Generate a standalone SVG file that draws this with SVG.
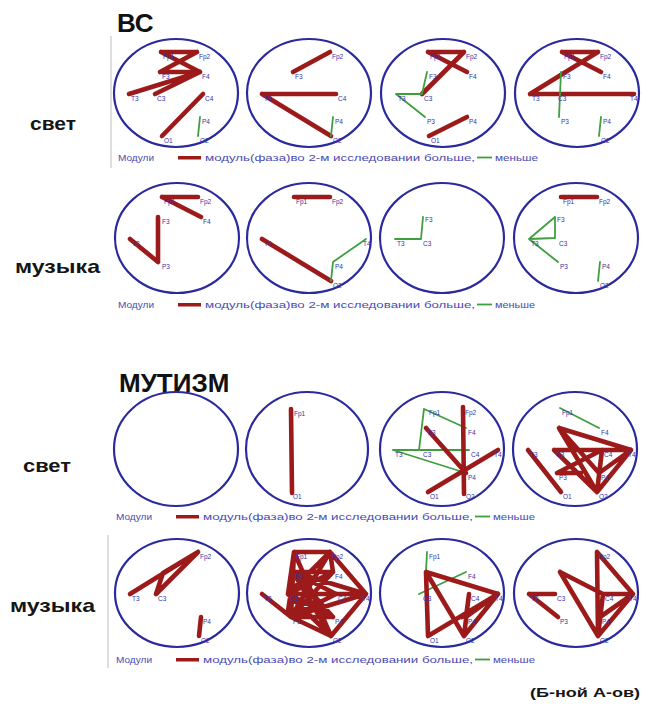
<svg xmlns="http://www.w3.org/2000/svg" width="645" height="706" viewBox="0 0 645 706">
  <style>
    text { font-family: "Liberation Sans", Arial, sans-serif; }
    .title { font-size: 26px; font-weight: bold; fill: #111; }
    .side { font-size: 19px; font-weight: bold; fill: #151515; }
    .sig { font-size: 12px; font-weight: bold; fill: #151515; }
    .head { fill: none; stroke: #2a2a9e; stroke-width: 2.2; }
    .up { fill: none; stroke: #9c1a1a; stroke-width: 4.6; stroke-linecap: round; stroke-linejoin: round; }
    .down { fill: none; stroke: #3f9f3f; stroke-width: 1.8; stroke-linecap: round; }
    .el { font-size: 6.5px; fill: #3434a6; }
    .leg { font-size: 8.5px; fill: #4a4ab2; }
    .sep { stroke: #c8c8c8; stroke-width: 1.2; }
    .legup { fill: #9c1a1a; }
    .legdown { stroke: #3f9f3f; stroke-width: 1.8; }
  </style>

  <!-- titles and row captions -->
  <text class="title" x="117" y="32">ВС</text>
  <text class="title" x="119" y="392">МУТИЗМ</text>
  <text class="side" x="30" y="130" textLength="46" lengthAdjust="spacingAndGlyphs">свет</text>
  <text class="side" x="15" y="273" textLength="85" lengthAdjust="spacingAndGlyphs">музыка</text>
  <text class="side" x="23" y="472" textLength="48" lengthAdjust="spacingAndGlyphs">свет</text>
  <text class="side" x="10" y="612" textLength="85" lengthAdjust="spacingAndGlyphs">музыка</text>
  <text class="sig" x="530" y="697" textLength="110" lengthAdjust="spacingAndGlyphs">(Б-ной А-ов)</text>

  <!-- panel borders -->
  <line class="sep" x1="111" y1="36" x2="111" y2="168"/>
  <line class="sep" x1="108" y1="535" x2="108" y2="668"/>

  <!-- ВС, свет -->
  <g id="vs-light-1" transform="translate(176,93)">
    <ellipse class="head" rx="62" ry="54"/>
    <g class="connectors">
      <path class="up" d="M-15,-41L21,-41M-15,-41L24,-21M21,-41L-16,-21M-16,-21L24,-21M-47,1L24,-21M-21,1L24,-21M27,1L-14,43"/>
      <path class="down" d="M24,24L22,43"/>
    </g>
    <text class="el" x="-13" y="-34">Fp1</text><text class="el" x="23" y="-34">Fp2</text>
    <text class="el" x="-14" y="-14">F3</text><text class="el" x="26" y="-14">F4</text>
    <text class="el" x="-45" y="8">T3</text><text class="el" x="-19" y="8">C3</text><text class="el" x="29" y="8">C4</text>
    <text class="el" x="26" y="31">P4</text>
    <text class="el" x="-12" y="50">O1</text><text class="el" x="24" y="50">O2</text>
  </g>
  <g id="vs-light-2" transform="translate(309,93)">
    <ellipse class="head" rx="62" ry="54"/>
    <g class="connectors">
      <path class="up" d="M21,-41L-16,-21M-47,1L27,1M-47,1L22,43"/>
      <path class="down" d="M24,24L22,43"/>
    </g>
    <text class="el" x="23" y="-34">Fp2</text><text class="el" x="-14" y="-14">F3</text>
    <text class="el" x="-45" y="8">T3</text><text class="el" x="29" y="8">C4</text>
    <text class="el" x="26" y="31">P4</text><text class="el" x="24" y="50">O2</text>
  </g>
  <g id="vs-light-3" transform="translate(443,93)">
    <ellipse class="head" rx="62" ry="54"/>
    <g class="connectors">
      <path class="up" d="M-15,-41L21,-41M-15,-41L24,-21M21,-41L-21,1M24,24L-14,43"/>
      <path class="down" d="M-16,-21L-21,1M-47,1L-21,1M-47,1L-18,24"/>
    </g>
    <text class="el" x="-13" y="-34">Fp1</text><text class="el" x="23" y="-34">Fp2</text>
    <text class="el" x="-14" y="-14">F3</text><text class="el" x="26" y="-14">F4</text>
    <text class="el" x="-45" y="8">T3</text><text class="el" x="-19" y="8">C3</text>
    <text class="el" x="-16" y="31">P3</text><text class="el" x="26" y="31">P4</text>
    <text class="el" x="-12" y="50">O1</text>
  </g>
  <g id="vs-light-4" transform="translate(577,93)">
    <ellipse class="head" rx="62" ry="54"/>
    <g class="connectors">
      <path class="up" d="M-15,-41L21,-41M-15,-41L24,-21M21,-41L-47,1M-47,1L57,1"/>
      <path class="down" d="M-16,-21L-18,24M24,24L22,43"/>
    </g>
    <text class="el" x="-13" y="-34">Fp1</text><text class="el" x="23" y="-34">Fp2</text>
    <text class="el" x="-14" y="-14">F3</text><text class="el" x="26" y="-14">F4</text>
    <text class="el" x="-45" y="8">T3</text><text class="el" x="-19" y="8">C3</text><text class="el" x="53" y="8">T4</text>
    <text class="el" x="-16" y="31">P3</text><text class="el" x="26" y="31">P4</text>
    <text class="el" x="24" y="50">O2</text>
  </g>
  <g id="legend-1">
    <text class="leg" x="118" y="161" textLength="36" lengthAdjust="spacingAndGlyphs">Модули</text>
    <rect class="legup" x="178" y="156" width="23" height="3.5"/>
    <text class="leg" x="205" y="161" textLength="270" lengthAdjust="spacingAndGlyphs">модуль(фаза)во 2-м исследовании больше,</text>
    <line class="legdown" x1="477" y1="157.5" x2="492" y2="157.5"/>
    <text class="leg" x="495" y="161" textLength="43" lengthAdjust="spacingAndGlyphs">меньше</text>
  </g>

  <!-- ВС, музыка -->
  <g id="vs-music-1" transform="translate(177,238)">
    <ellipse class="head" rx="62" ry="55"/>
    <g class="connectors">
      <path class="up" d="M-15,-41L21,-41M-15,-41L24,-21M-19,-21L-19,24M-47,1L-19,24"/>
    </g>
    <text class="el" x="-13" y="-34">Fp1</text><text class="el" x="23" y="-34">Fp2</text>
    <text class="el" x="-15" y="-14">F3</text><text class="el" x="26" y="-14">F4</text>
    <text class="el" x="-45" y="8">T3</text><text class="el" x="-15" y="31">P3</text>
  </g>
  <g id="vs-music-2" transform="translate(309,238)">
    <ellipse class="head" rx="62" ry="55"/>
    <g class="connectors">
      <path class="up" d="M-15,-41L21,-41M-47,1L22,43"/>
      <path class="down" d="M22,43L24,24M24,24L57,1"/>
    </g>
    <text class="el" x="-13" y="-34">Fp1</text><text class="el" x="23" y="-34">Fp2</text>
    <text class="el" x="-45" y="8">T3</text><text class="el" x="54" y="8">T4</text>
    <text class="el" x="26" y="31">P4</text><text class="el" x="24" y="50">O2</text>
  </g>
  <g id="vs-music-3" transform="translate(442,238)">
    <ellipse class="head" rx="62" ry="55"/>
    <g class="connectors">
      <path class="down" d="M-47,1L-21,1M-21,1L-19,-21"/>
    </g>
    <text class="el" x="-17" y="-16">F3</text>
    <text class="el" x="-45" y="8">T3</text><text class="el" x="-19" y="8">C3</text>
  </g>
  <g id="vs-music-4" transform="translate(576,238)">
    <ellipse class="head" rx="62" ry="55"/>
    <g class="connectors">
      <path class="up" d="M-15,-41L21,-41"/>
      <path class="down" d="M-47,1L-21,-21M-21,-21L-21,0M-47,1L-21,0M-47,1L-18,24M24,24L22,43"/>
    </g>
    <text class="el" x="-13" y="-34">Fp1</text><text class="el" x="23" y="-34">Fp2</text>
    <text class="el" x="-19" y="-16">F3</text>
    <text class="el" x="-45" y="8">T3</text><text class="el" x="-17" y="8">C3</text>
    <text class="el" x="-16" y="31">P3</text><text class="el" x="26" y="31">P4</text>
    <text class="el" x="24" y="50">O2</text>
  </g>
  <g id="legend-2">
    <text class="leg" x="118" y="308" textLength="36" lengthAdjust="spacingAndGlyphs">Модули</text>
    <rect class="legup" x="178" y="303" width="23" height="3.5"/>
    <text class="leg" x="205" y="308" textLength="270" lengthAdjust="spacingAndGlyphs">модуль(фаза)во 2-м исследовании больше,</text>
    <line class="legdown" x1="477" y1="304.5" x2="492" y2="304.5"/>
    <text class="leg" x="495" y="308" textLength="40" lengthAdjust="spacingAndGlyphs">меньше</text>
  </g>

  <!-- МУТИЗМ, свет -->
  <g id="mut-light-1" transform="translate(176,449)">
    <ellipse class="head" rx="62" ry="57"/>
  </g>
  <g id="mut-light-2" transform="translate(307,449)">
    <ellipse class="head" rx="61" ry="57"/>
    <g class="connectors">
      <path class="up" d="M-16,-40L-15,44"/>
    </g>
    <text class="el" x="-13" y="-33">Fp1</text><text class="el" x="-14" y="50">O1</text>
  </g>
  <g id="mut-light-3" transform="translate(442,449)">
    <ellipse class="head" rx="62" ry="57"/>
    <g class="connectors">
      <path class="down" d="M-18,-40L24,-21M-18,-40L-23,1M-49,1L27,1M-49,1L24,24"/>
      <path class="up" d="M21,-42L22,45M-16,-21L24,24M-14,43L56,1"/>
    </g>
    <text class="el" x="-13" y="-34">Fp1</text><text class="el" x="23" y="-34">Fp2</text>
    <text class="el" x="-14" y="-14">F3</text><text class="el" x="26" y="-14">F4</text>
    <text class="el" x="-47" y="8">T3</text><text class="el" x="-19" y="8">C3</text>
    <text class="el" x="29" y="8">C4</text><text class="el" x="52" y="8">T4</text>
    <text class="el" x="26" y="31">P4</text>
    <text class="el" x="-12" y="50">O1</text><text class="el" x="24" y="50">O2</text>
  </g>
  <g id="mut-light-4" transform="translate(575,449)">
    <ellipse class="head" rx="62" ry="57"/>
    <g class="connectors">
      <path class="down" d="M-15,-41L24,-21"/>
      <path class="up" d="M-47,1L-14,43M-16,-21L56,1M-16,-21L22,43M-16,-21L24,24M-21,1L56,1M-18,24L27,1M27,1L22,43M56,1L22,43M24,24L56,1M-21,1L22,43M-18,24L6,24"/>
    </g>
    <text class="el" x="-13" y="-34">Fp1</text><text class="el" x="26" y="-14">F4</text>
    <text class="el" x="-45" y="8">T3</text><text class="el" x="-19" y="8">C3</text>
    <text class="el" x="29" y="8">C4</text><text class="el" x="53" y="8">T4</text>
    <text class="el" x="-16" y="31">P3</text><text class="el" x="26" y="31">P4</text>
    <text class="el" x="-12" y="50">O1</text><text class="el" x="24" y="50">O2</text>
  </g>
  <g id="legend-3">
    <text class="leg" x="116" y="520" textLength="36" lengthAdjust="spacingAndGlyphs">Модули</text>
    <rect class="legup" x="176" y="515" width="23" height="3.5"/>
    <text class="leg" x="203" y="520" textLength="270" lengthAdjust="spacingAndGlyphs">модуль(фаза)во 2-м исследовании больше,</text>
    <line class="legdown" x1="475" y1="516.5" x2="490" y2="516.5"/>
    <text class="leg" x="493" y="520" textLength="42" lengthAdjust="spacingAndGlyphs">меньше</text>
  </g>

  <!-- МУТИЗМ, музыка -->
  <g id="mut-music-1" transform="translate(177,593)">
    <ellipse class="head" rx="62" ry="54"/>
    <g class="connectors">
      <path class="up" d="M-47,1L21,-41M-21,1L-14,-20M-14,-20L21,-41M-21,1L21,-41M24,24L22,43"/>
    </g>
    <text class="el" x="23" y="-34">Fp2</text>
    <text class="el" x="-45" y="8">T3</text><text class="el" x="-19" y="8">C3</text>
    <text class="el" x="26" y="31">P4</text><text class="el" x="24" y="50">O2</text>
  </g>
  <g id="mut-music-2" transform="translate(309,593)">
    <ellipse class="head" rx="62" ry="54"/>
    <g class="connectors">
      <path class="up" d="M-15,-41L21,-41M-15,-41L-16,-21M-15,-41L-21,1M-15,-41L-18,24M21,-41L24,-21M21,-41L57,1M21,-41L-21,1M21,-41L-18,24M-16,-21L24,-21M-16,-21L27,1M-16,-21L57,1M-16,-21L24,24M-16,-21L22,43M24,-21L-21,1M24,-21L-18,24M-21,1L27,1M-21,1L57,1M-21,1L24,24M-21,1L22,43M27,1L-18,24M57,1L-18,24M57,1L22,43M-18,24L24,24M-18,24L22,43M-47,1L-18,24M-15,-41L22,43M-18,-2L-21,18"/>
    </g>
    <text class="el" x="-13" y="-34">Fp1</text><text class="el" x="23" y="-34">Fp2</text>
    <text class="el" x="-14" y="-14">F3</text><text class="el" x="26" y="-14">F4</text>
    <text class="el" x="-45" y="8">T3</text><text class="el" x="-19" y="8">C3</text>
    <text class="el" x="29" y="8">C4</text><text class="el" x="53" y="8">T4</text>
    <text class="el" x="-16" y="31">P3</text><text class="el" x="26" y="31">P4</text>
    <text class="el" x="24" y="50">O2</text>
  </g>
  <g id="mut-music-3" transform="translate(442,593)">
    <ellipse class="head" rx="62" ry="54"/>
    <g class="connectors">
      <path class="down" d="M-15,-41L-16,-21M-23,1L24,-21"/>
      <path class="up" d="M-16,-21L56,1M-16,-21L-14,43M-14,43L56,1M-16,-21L22,43M22,43L56,1M27,1L22,43M24,24L56,1M27,1L24,24M20,24L50,6"/>
    </g>
    <text class="el" x="-13" y="-34">Fp1</text><text class="el" x="26" y="-14">F4</text>
    <text class="el" x="-19" y="8">C3</text><text class="el" x="29" y="8">C4</text>
    <text class="el" x="53" y="8">T4</text><text class="el" x="26" y="31">P4</text>
    <text class="el" x="-12" y="50">O1</text><text class="el" x="24" y="50">O2</text>
  </g>
  <g id="mut-music-4" transform="translate(576,593)">
    <ellipse class="head" rx="62" ry="54"/>
    <g class="connectors">
      <path class="up" d="M21,-41L57,1M21,-41L22,43M-16,-21L22,43M-16,-21L27,1M-47,1L-21,1M-47,1L-18,24M27,1L57,1M24,24L57,1M22,43L57,1M27,1L22,43"/>
    </g>
    <text class="el" x="23" y="-34">Fp2</text>
    <text class="el" x="-45" y="8">T3</text><text class="el" x="-19" y="8">C3</text>
    <text class="el" x="29" y="8">C4</text><text class="el" x="53" y="8">T4</text>
    <text class="el" x="-16" y="31">P3</text><text class="el" x="26" y="31">P4</text>
    <text class="el" x="24" y="50">O2</text>
  </g>
  <g id="legend-4">
    <text class="leg" x="116" y="663" textLength="36" lengthAdjust="spacingAndGlyphs">Модули</text>
    <rect class="legup" x="176" y="658" width="23" height="3.5"/>
    <text class="leg" x="203" y="663" textLength="270" lengthAdjust="spacingAndGlyphs">модуль(фаза)во 2-м исследовании больше,</text>
    <line class="legdown" x1="475" y1="659.5" x2="490" y2="659.5"/>
    <text class="leg" x="493" y="663" textLength="42" lengthAdjust="spacingAndGlyphs">меньше</text>
  </g>
</svg>
